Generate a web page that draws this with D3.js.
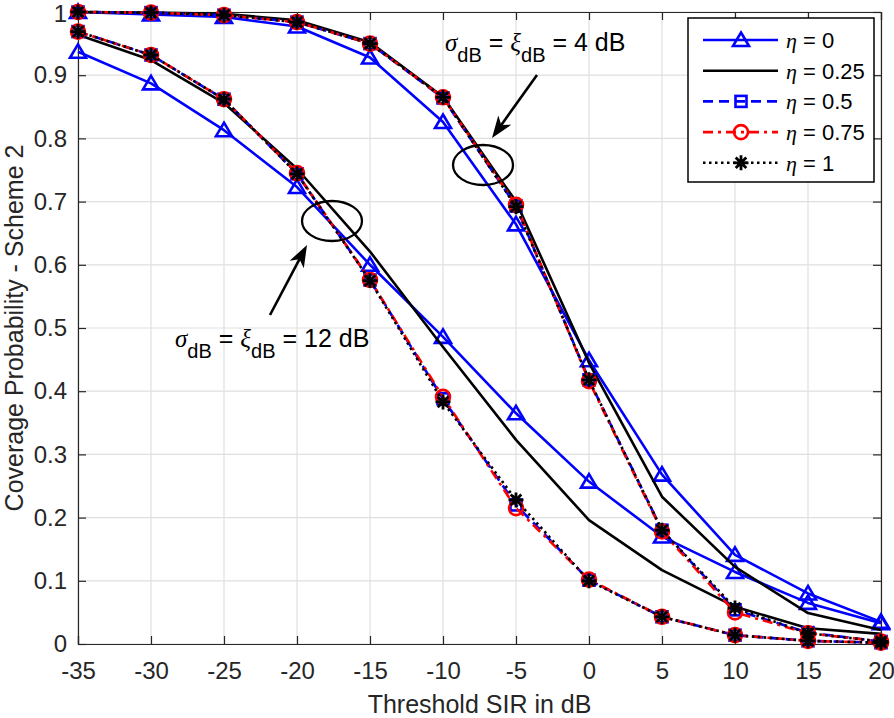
<!DOCTYPE html>
<html>
<head>
<meta charset="utf-8">
<script src="https://cdn.jsdelivr.net/npm/d3@7"></script>
<style>
  body { margin: 0; background: #fff; }
  svg { display: block; }
  text { font-family: "Liberation Sans", Arial, Helvetica, sans-serif; }
</style>
</head>
<body>
<div id="chart"></div>
<script>
// threshold SIR in dB
const sir = [-35, -30, -25, -20, -15, -10, -5, 0, 5, 10, 15, 20];
const etaLabels = ["0", "0.25", "0.5", "0.75", "1"];

// sigma_dB = xi_dB = 4 dB
const s4_eta0    = [1.000, 0.996, 0.992, 0.977, 0.928, 0.826, 0.664, 0.449, 0.268, 0.141, 0.080, 0.035];
const s4_eta025  = [1.000, 0.999, 0.997, 0.987, 0.952, 0.866, 0.700, 0.445, 0.233, 0.122, 0.049, 0.022];
const s4_eta05   = [1.000, 0.999, 0.995, 0.984, 0.950, 0.864, 0.693, 0.418, 0.180, 0.054, 0.018, 0.004];
const s4_eta075  = [1.000, 0.999, 0.995, 0.984, 0.950, 0.865, 0.695, 0.416, 0.178, 0.050, 0.017, 0.004];
const s4_eta1    = [1.000, 0.999, 0.995, 0.984, 0.950, 0.865, 0.692, 0.418, 0.180, 0.057, 0.017, 0.004];

// sigma_dB = xi_dB = 12 dB
const s12_eta0   = [0.937, 0.887, 0.813, 0.723, 0.600, 0.486, 0.365, 0.257, 0.170, 0.114, 0.065, 0.033];
const s12_eta025 = [0.964, 0.924, 0.856, 0.752, 0.621, 0.470, 0.323, 0.196, 0.117, 0.059, 0.025, 0.016];
const s12_eta05  = [0.969, 0.932, 0.862, 0.744, 0.576, 0.388, 0.220, 0.101, 0.043, 0.014, 0.005, 0.002];
const s12_eta075 = [0.969, 0.932, 0.862, 0.745, 0.576, 0.391, 0.215, 0.102, 0.043, 0.014, 0.005, 0.002];
const s12_eta1   = [0.969, 0.932, 0.862, 0.744, 0.575, 0.383, 0.228, 0.100, 0.043, 0.014, 0.005, 0.002];

const xTicks = [-35, -30, -25, -20, -15, -10, -5, 0, 5, 10, 15, 20];
const yTicks = [0, 0.1, 0.2, 0.3, 0.4, 0.5, 0.6, 0.7, 0.8, 0.9, 1];

const W = 894, H = 718;
const margin = { left: 78, right: 13, top: 12, bottom: 74 };

const svg = d3.select("#chart").append("svg").attr("width", W).attr("height", H);

const x = d3.scaleLinear().domain([-35, 20]).range([margin.left, W - margin.right]);
const y = d3.scaleLinear().domain([0, 1]).range([H - margin.bottom, margin.top]);

// grid
svg.append("g").selectAll("line").data(xTicks).join("line")
  .attr("x1", d => x(d)).attr("x2", d => x(d))
  .attr("y1", y(0)).attr("y2", y(1))
  .attr("stroke", "#dfdfdf").attr("stroke-width", 1.2);
svg.append("g").selectAll("line").data(yTicks).join("line")
  .attr("x1", x(-35)).attr("x2", x(20))
  .attr("y1", d => y(d)).attr("y2", d => y(d))
  .attr("stroke", "#dfdfdf").attr("stroke-width", 1.2);

// axes
const tickCol = "#262626";
const xAxis = svg.append("g").attr("transform", `translate(0,${y(0)})`)
  .call(d3.axisBottom(x).tickValues(xTicks).tickSize(-8).tickPadding(18).tickFormat(d => String(d)));
const yAxis = svg.append("g").attr("transform", `translate(${x(-35)},0)`)
  .call(d3.axisLeft(y).tickValues(yTicks).tickSize(-8).tickPadding(11).tickFormat(d => d === 0 || d === 1 ? d : d.toFixed(1)));
const xTop = svg.append("g").attr("transform", `translate(0,${y(1)})`)
  .call(d3.axisTop(x).tickValues(xTicks).tickSize(-8).tickFormat(""));
const yRight = svg.append("g").attr("transform", `translate(${x(20)},0)`)
  .call(d3.axisRight(y).tickValues(yTicks).tickSize(-8).tickFormat(""));
[xAxis, yAxis, xTop, yRight].forEach(g => {
  g.select(".domain").attr("stroke", tickCol).attr("stroke-width", 1.2);
  g.selectAll(".tick line").attr("stroke", tickCol).attr("stroke-width", 1.2);
  g.selectAll("text").attr("fill", tickCol).style("font-size", "24px")
    .style("font-family", "'Liberation Sans', Arial, sans-serif");
});
xAxis.selectAll("text").attr("dy", "0.71em");
// top label "1" sits right at the upper edge, as in the reference
yAxis.selectAll(".tick text").filter(d => d === 1).attr("dy", "0.40em");

// axis labels
svg.append("text").attr("x", (x(-35) + x(20)) / 2).attr("y", 713)
  .attr("text-anchor", "middle").attr("fill", tickCol).style("font-size", "25px")
  .text("Threshold SIR in dB");
svg.append("text").attr("transform", `translate(23,${(y(0) + y(1)) / 2}) rotate(-90)`)
  .attr("text-anchor", "middle").attr("fill", tickCol).style("font-size", "25px")
  .text("Coverage Probability - Scheme 2");

// series styles
const styles = [
  { color: "#0000ff", dash: null, marker: "triangle" },
  { color: "#000000", dash: null, marker: "none" },
  { color: "#0000ff", dash: "10,6", marker: "square" },
  { color: "#ff0000", dash: "10,5,3,5", marker: "circle" },
  { color: "#000000", dash: "2.5,3.5", marker: "asterisk" }
];
const series4 = [s4_eta0, s4_eta025, s4_eta05, s4_eta075, s4_eta1];
const series12 = [s12_eta0, s12_eta025, s12_eta05, s12_eta075, s12_eta1];

const line = d3.line().x(d => x(d[0])).y(d => y(d[1]));
const LW = 2.6;

function drawMarker(g, type, cx, cy, color) {
  if (type === "triangle") {
    g.append("path").attr("d", `M${cx},${cy - 7.5} L${cx + 8},${cy + 6} L${cx - 8},${cy + 6} Z`)
      .attr("fill", "none").attr("stroke", color).attr("stroke-width", LW);
  } else if (type === "square") {
    g.append("rect").attr("x", cx - 5.5).attr("y", cy - 5.5).attr("width", 11).attr("height", 11)
      .attr("fill", "none").attr("stroke", color).attr("stroke-width", LW);
  } else if (type === "circle") {
    g.append("circle").attr("cx", cx).attr("cy", cy).attr("r", 7)
      .attr("fill", "none").attr("stroke", color).attr("stroke-width", LW);
  } else if (type === "asterisk") {
    const r = 7.5, q = r * 0.7071;
    g.append("path")
      .attr("d", `M${cx - r},${cy}H${cx + r}M${cx},${cy - r}V${cy + r}M${cx - q},${cy - q}L${cx + q},${cy + q}M${cx - q},${cy + q}L${cx + q},${cy - q}`)
      .attr("stroke", color).attr("stroke-width", 2.8).attr("fill", "none");
  }
}

const plot = svg.append("g");
styles.forEach((st, i) => {
  [series4[i], series12[i]].forEach(vals => {
    const pts = sir.map((s, j) => [s, vals[j]]);
    plot.append("path").attr("d", line(pts))
      .attr("fill", "none").attr("stroke", st.color).attr("stroke-width", LW)
      .attr("stroke-dasharray", st.dash).attr("stroke-linejoin", "round");
    pts.forEach(p => drawMarker(plot, st.marker, x(p[0]), y(p[1]), st.color));
  });
});

// annotations: ellipses and arrows
function ellipse(cx, cy) {
  svg.append("ellipse").attr("cx", cx).attr("cy", cy).attr("rx", 30).attr("ry", 20)
    .attr("fill", "none").attr("stroke", "#000").attr("stroke-width", 2.3);
}
function arrow(x1, y1, x2, y2) {
  const a = Math.atan2(y2 - y1, x2 - x1);
  const L = 22, wdt = 8, back = 16;
  const bx = x2 - L * Math.cos(a), by = y2 - L * Math.sin(a);
  const ix = x2 - back * Math.cos(a), iy = y2 - back * Math.sin(a);
  svg.append("line").attr("x1", x1).attr("y1", y1).attr("x2", ix).attr("y2", iy)
    .attr("stroke", "#000").attr("stroke-width", 2.6);
  const px = -Math.sin(a) * wdt, py = Math.cos(a) * wdt;
  svg.append("path")
    .attr("d", `M${x2},${y2} L${bx + px},${by + py} L${ix},${iy} L${bx - px},${by - py} Z`)
    .attr("fill", "#000");
}
ellipse(483, 165);
arrow(537, 75, 492, 138);
ellipse(332, 221);
arrow(270, 315, 307, 245);

function sigmaLabel(x0, yb, value) {
  const t = svg.append("text").attr("x", x0).attr("y", yb).attr("fill", "#000").style("font-size", "25px");
  t.append("tspan").style("font-family", "'Liberation Serif', serif").style("font-style", "italic").text("σ");
  t.append("tspan").attr("dy", 11).style("font-size", "20px").text("dB");
  t.append("tspan").attr("dy", -11).text(" = ");
  t.append("tspan").style("font-family", "'Liberation Serif', serif").style("font-style", "italic").text("ξ");
  t.append("tspan").attr("dy", 11).style("font-size", "20px").text("dB");
  t.append("tspan").attr("dy", -11).text(` = ${value} dB`);
}
sigmaLabel(445, 51, 4);
sigmaLabel(175, 347, 12);

// legend
const lg = svg.append("g");
lg.append("rect").attr("x", 688).attr("y", 18).attr("width", 186).attr("height", 164)
  .attr("fill", "#fff").attr("stroke", "#000").attr("stroke-width", 1.5);
styles.forEach((st, i) => {
  const ly = 40 + i * 30.7;
  lg.append("line").attr("x1", 703).attr("x2", 778).attr("y1", ly).attr("y2", ly)
    .attr("stroke", st.color).attr("stroke-width", LW).attr("stroke-dasharray", st.dash);
  drawMarker(lg, st.marker, 741, ly, st.color);
  const t = lg.append("text").attr("x", 786).attr("y", ly + 8).attr("fill", "#000").style("font-size", "22px");
  t.append("tspan").style("font-family", "'Liberation Serif', serif").style("font-style", "italic").text("η");
  t.append("tspan").text(` = ${etaLabels[i]}`);
});
</script>
</body>
</html>
